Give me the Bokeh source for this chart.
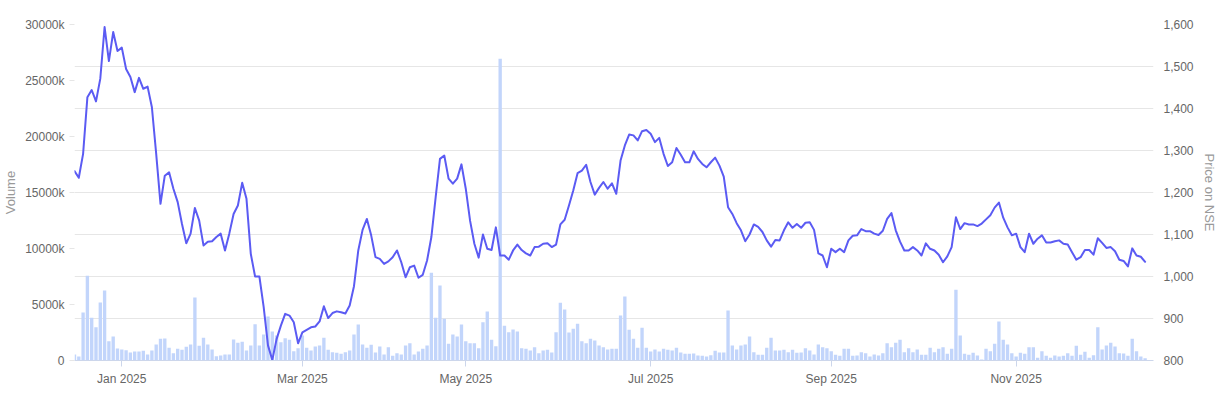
from bokeh.plotting import figure
from bokeh.models import Range1d, LinearAxis, FixedTicker, CustomJSTickFormatter, NumeralTickFormatter
from bokeh.embed import file_html
from bokeh.resources import INLINE

# Daily closing price on NSE (one value per trading day, mid-Dec 2024 .. mid-Dec 2025)
price = [
    1251, 1235, 1292, 1427, 1444, 1417, 1471, 1594, 1513, 1582, 1537, 1545, 1494, 1475, 1439, 1473,
    1447, 1452, 1403, 1292, 1173, 1240, 1248, 1209, 1177, 1125, 1079, 1102, 1163, 1133, 1074,
    1083, 1084, 1094, 1102, 1062, 1102, 1149, 1169, 1223, 1185, 1054, 1000, 1000, 927, 836,
    801, 851, 883, 911, 907, 891, 841, 867, 873, 879, 881, 893, 929, 901, 913, 917,
    915, 912, 931, 977, 1062, 1111, 1137, 1098, 1046, 1042, 1030, 1036, 1046, 1062, 1034, 998,
    1022, 1026, 997, 1004, 1038, 1094, 1189, 1280, 1288, 1233, 1221, 1233, 1267, 1209, 1133, 1078,
    1045, 1100, 1066, 1063, 1117, 1050, 1050, 1040, 1062, 1076, 1063, 1055, 1050, 1070, 1071, 1078,
    1079, 1070, 1076, 1124, 1135, 1169, 1205, 1246, 1252, 1266, 1225, 1195, 1211, 1225, 1209,
    1222, 1197, 1276, 1312, 1338, 1336, 1324, 1346, 1349, 1340, 1320, 1330, 1292, 1263, 1272, 1306,
    1290, 1272, 1272, 1298, 1280, 1268, 1260, 1272, 1283, 1264, 1238, 1165, 1149, 1127, 1110, 1084,
    1100, 1124, 1118, 1106, 1086, 1071, 1087, 1086, 1110, 1129, 1116, 1125, 1116, 1128, 1129, 1111,
    1055, 1050, 1022, 1066, 1058, 1066, 1058, 1086, 1097, 1098, 1113, 1108, 1108, 1102, 1099,
    1109, 1137, 1151, 1110, 1083, 1062, 1062, 1070, 1062, 1050, 1079, 1066, 1062, 1052, 1034, 1048,
    1070, 1141, 1113, 1127, 1124, 1124, 1120, 1126, 1136, 1146, 1164, 1176, 1140, 1117, 1098, 1102,
    1070, 1058, 1102, 1078, 1090, 1098, 1081, 1081, 1084, 1086, 1078, 1076, 1058, 1040, 1046,
    1063, 1063, 1052, 1091, 1080, 1068, 1070, 1060, 1040, 1037, 1024, 1067, 1050, 1047, 1035,
]

# Daily traded volume, in thousands of shares
volume_k = [
    536, 357, 4285, 7559, 3809, 2976, 5178, 6250, 1726, 2143, 1071, 982, 923, 714, 804, 804,
    863, 536, 893, 1428, 1934, 1964, 1131, 655, 1042, 952, 1220, 1428, 5625, 1309, 2024,
    1428, 982, 387, 446, 536, 536, 1875, 1577, 1667, 893, 1339, 3244, 1339, 2321, 3928,
    2589, 2232, 1637, 1994, 1845, 833, 1101, 2232, 1131, 893, 1250, 1339, 2024, 952, 744, 684,
    595, 744, 893, 2321, 3214, 1428, 1131, 1399, 714, 1250, 536, 1190, 417, 655, 536, 1339,
    1547, 536, 804, 1042, 1339, 7827, 3809, 6696, 3720, 1488, 2321, 2143, 3214, 1726, 1547, 1547,
    1101, 3422, 4375, 1845, 1280, 26933, 3095, 2530, 2768, 2589, 1101, 1042, 893, 1190, 655, 893,
    952, 714, 2530, 5148, 4553, 2500, 2827, 3274, 1726, 1547, 1934, 1786, 1339, 1190, 982,
    1042, 1042, 4018, 5714, 2738, 1934, 1131, 2916, 1131, 804, 982, 804, 1042, 952, 893, 1131,
    714, 595, 595, 625, 446, 417, 357, 476, 863, 714, 714, 4464, 1339, 982, 1339, 1428,
    2143, 744, 506, 506, 1131, 2024, 893, 893, 952, 744, 952, 684, 714, 1101, 893, 536,
    1428, 1190, 1101, 833, 506, 417, 1042, 1042, 417, 446, 744, 655, 357, 536, 446,
    655, 1547, 1190, 1577, 1845, 744, 1101, 744, 982, 506, 506, 1131, 744, 1042, 1190, 595,
    1042, 6309, 2232, 595, 506, 684, 446, 89, 1042, 833, 1488, 3482, 1845, 1428, 655, 357,
    684, 595, 1190, 1190, 238, 833, 417, 238, 446, 357, 417, 655, 417, 1309, 506,
    774, 238, 476, 2976, 982, 1339, 1577, 1250, 655, 625, 417, 1934, 833, 357, 208,
]

# Month labels and the trading-day index at which each month starts
tick_index = [11, 53, 91, 134, 176, 219]
tick_labels = ["Jan 2025", "Mar 2025", "May 2025", "Jul 2025", "Sep 2025", "Nov 2025"]

volume_ticks = [0, 5000, 10000, 15000, 20000, 25000, 30000]
price_ticks = [800, 900, 1000, 1100, 1200, 1300, 1400, 1500, 1600]

day = list(range(len(price)))

FONT = "Liberation Sans"
LABEL = "#666666"
TITLE = "#999999"

p = figure(width=1219, height=394, output_backend="svg", toolbar_location=None,
           x_range=Range1d(0, 250.95), y_range=Range1d(800, 1600),
           y_axis_location="right",
           min_border_left=71, min_border_right=56, min_border_top=24, min_border_bottom=34)
p.outline_line_color = None
p.background_fill_color = "white"
p.border_fill_color = "white"

p.extra_y_ranges = {"vol": Range1d(0, 30000)}

p.vbar(x=day, top=volume_k, bottom=0, width=0.78, y_range_name="vol",
       fill_color="#c2d5fb", line_color=None)
p.line(day, price, line_color="#5b5bf3", line_width=2, line_join="round", line_cap="round")

# grids
p.xgrid.grid_line_color = None
p.ygrid.grid_line_color = "#e6e6e6"
p.ygrid.grid_line_width = 1

# right (price) axis
ra = p.right[0]
ra.ticker = FixedTicker(ticks=price_ticks)
ra.formatter = NumeralTickFormatter(format="0,0")
ra.axis_label = "Price on NSE"
ra.axis_line_color = None
ra.major_tick_line_color = None
ra.minor_tick_line_color = None
ra.major_label_standoff = 4
ra.axis_label_standoff = 5

# left (volume) axis
la = LinearAxis(y_range_name="vol", ticker=FixedTicker(ticks=volume_ticks),
                formatter=CustomJSTickFormatter(code="return tick == 0 ? '0' : tick.toFixed(0) + 'k';"),
                axis_label="Volume")
la.axis_line_color = None
la.major_tick_line_color = "#e6e6e6"
la.major_tick_out = 5
la.major_tick_in = 0
la.minor_tick_line_color = None
la.major_label_standoff = 5
la.axis_label_standoff = 4
p.add_layout(la, "left")

# bottom (time) axis
xa = p.below[0]
xa.ticker = FixedTicker(ticks=tick_index)
xa.formatter = CustomJSTickFormatter(args=dict(pos=tick_index, labels=tick_labels),
                                     code="const k = pos.indexOf(tick); return k >= 0 ? labels[k] : '';")
xa.axis_line_color = "#ccd6eb"
xa.major_tick_line_color = "#ccd6eb"
xa.major_tick_out = 6
xa.major_tick_in = 0
xa.minor_tick_line_color = None
xa.major_label_standoff = 5

for ax in (ra, la, xa):
    ax.major_label_text_font = FONT
    ax.major_label_text_font_size = "12px"
    ax.major_label_text_color = LABEL
    ax.axis_label_text_font = FONT
    ax.axis_label_text_font_size = "13px"
    ax.axis_label_text_font_style = "normal"
    ax.axis_label_text_color = TITLE

open("out.html", "w").write(file_html(p, INLINE))
